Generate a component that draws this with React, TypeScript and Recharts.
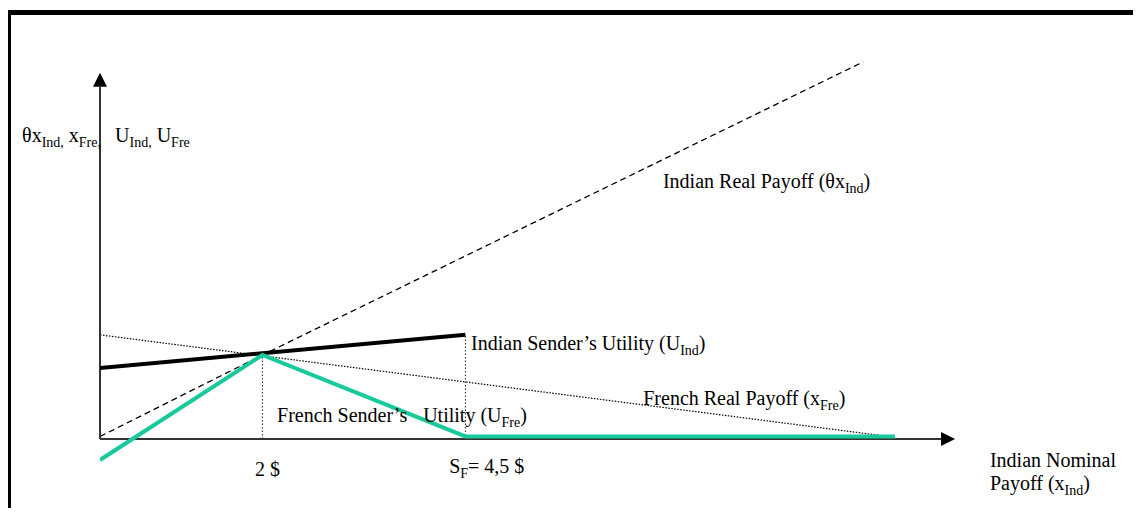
import React from 'react';
import { LineChart, Line, XAxis, YAxis, ReferenceLine, ReferenceDot } from 'recharts';

const FONT = '"Liberation Serif", "Times New Roman", serif';
const TEAL = '#17C99B';

// x = Indian nominal payoff ($), y = payoff / utility (arbitrary units)
const indianRealPayoff = [
  { x: 0, y: 0.03 },
  { x: 2, y: 1.0 },
  { x: 9.4, y: 4.49 },
];
const frenchRealPayoff = [
  { x: 0, y: 1.24 },
  { x: 9.79, y: 0.02 },
];
const indianUtility = [
  { x: 0, y: 0.845 },
  { x: 4.5, y: 1.24 },
];
const frenchUtility = [
  { x: 0, y: -0.25 },
  { x: 2, y: 1.0 },
  { x: 4.5, y: 0.03 },
  { x: 9.79, y: 0.03 },
];

// dotted guides dropped from the kinks to the x axis
const guideX = [2, 4.5];
const guideTop = [1.0, 1.24];

// axis lengths (data units)
const xAxisEnd = 10.53;
const yAxisEnd = 4.36;

type Part = { t: string; sub?: boolean };

const labels: { x: number; y: number; parts: Part[] }[] = [
  { x: -0.96, y: 3.536, parts: [{ t: 'θx' }, { t: 'Ind,', sub: true }, { t: ' x' }, { t: 'Fre,', sub: true }] },
  { x: 0.185, y: 3.536, parts: [{ t: 'U' }, { t: 'Ind,', sub: true }, { t: ' U' }, { t: 'Fre', sub: true }] },
  { x: 6.933, y: 2.988, parts: [{ t: 'Indian Real Payoff (θx' }, { t: 'Ind', sub: true }, { t: ')' }] },
  { x: 4.57, y: 1.06, parts: [{ t: 'Indian Sender’s Utility (U' }, { t: 'Ind', sub: true }, { t: ')' }] },
  { x: 2.18, y: 0.2, parts: [{ t: 'French Sender’s' }] },
  { x: 3.98, y: 0.2, parts: [{ t: 'Utility (U' }, { t: 'Fre', sub: true }, { t: ')' }] },
  { x: 6.69, y: 0.405, parts: [{ t: 'French Real Payoff (x' }, { t: 'Fre', sub: true }, { t: ')' }] },
  { x: 1.91, y: -0.44, parts: [{ t: '2 $' }] },
  { x: 4.3, y: -0.405, parts: [{ t: 'S' }, { t: 'F', sub: true }, { t: '= 4,5 $' }] },
  { x: 10.96, y: -0.333, parts: [{ t: 'Indian Nominal' }] },
  { x: 10.96, y: -0.607, parts: [{ t: 'Payoff (x' }, { t: 'Ind', sub: true }, { t: ')' }] },
];

const Caption = ({ cx, cy, parts }: { cx: number; cy: number; parts: Part[] }) => {
  let prevSub = false;
  return (
    <text x={cx} y={cy} fontFamily={FONT} fontSize={20} fill="#000" style={{ whiteSpace: 'pre' }}>
      {parts.map((p, i) => {
        const dy = p.sub && !prevSub ? 5 : !p.sub && prevSub ? -5 : 0;
        prevSub = !!p.sub;
        return (
          <tspan key={i} dy={dy} fontSize={p.sub ? 14 : 20}>
            {p.t}
          </tspan>
        );
      })}
    </text>
  );
};

const ArrowAxis = (props: any) => {
  const { x1, y1, x2, y2 } = props;
  const ang = Math.atan2(y2 - y1, x2 - x1);
  const len = 14;
  const half = 7;
  const bx = x2 - len * Math.cos(ang);
  const by = y2 - len * Math.sin(ang);
  const px = -Math.sin(ang) * half;
  const py = Math.cos(ang) * half;
  return (
    <g>
      <line x1={x1} y1={y1} x2={bx} y2={by} stroke="#333" strokeWidth={2} />
      <polygon points={`${x2},${y2} ${bx + px},${by + py} ${bx - px},${by - py}`} fill="#000" />
    </g>
  );
};

export default function App() {
  return (
    <div style={{ position: 'relative', width: 1141, height: 516, margin: -8, overflow: 'hidden', background: '#fff' }}>
      <div
        style={{
          position: 'absolute',
          left: 6,
          top: 10,
          width: 1300,
          height: 700,
          borderTop: '5px solid #000',
          borderLeft: '5px solid #000',
        }}
      />
      <div style={{ position: 'absolute', left: 0, top: 0 }}>
        <LineChart width={1141} height={516} margin={{ top: 19, right: 66.6, bottom: 9.8, left: 100 }}>
          <XAxis type="number" dataKey="x" domain={[0, 12]} allowDataOverflow hide />
          <YAxis type="number" dataKey="y" domain={[-0.8, 5]} allowDataOverflow hide />

          {guideX.map((gx, i) => (
            <ReferenceLine
              key={gx}
              segment={[{ x: gx, y: 0 }, { x: gx, y: guideTop[i] }]}
              stroke="#222"
              strokeWidth={1}
              strokeDasharray="1.5 2"
            />
          ))}

          <Line data={frenchRealPayoff} dataKey="y" type="linear" stroke="#000" strokeWidth={1.2} strokeDasharray="1.5 1.5" dot={false} isAnimationActive={false} />
          <Line data={indianRealPayoff} dataKey="y" type="linear" stroke="#000" strokeWidth={1.3} strokeDasharray="6 4" dot={false} isAnimationActive={false} />

          <ReferenceLine segment={[{ x: 0, y: 0 }, { x: xAxisEnd, y: 0 }]} shape={ArrowAxis} />
          <ReferenceLine segment={[{ x: 0, y: 0 }, { x: 0, y: yAxisEnd }]} shape={ArrowAxis} />

          <Line data={indianUtility} dataKey="y" type="linear" stroke="#000" strokeWidth={4} dot={false} isAnimationActive={false} />
          <Line data={frenchUtility} dataKey="y" type="linear" stroke={TEAL} strokeWidth={4} dot={false} isAnimationActive={false} />

          {labels.map((l, i) => (
            <ReferenceDot
              key={i}
              x={l.x}
              y={l.y}
              r={0}
              ifOverflow="visible"
              shape={(p: any) => <Caption cx={p.cx} cy={p.cy} parts={l.parts} />}
            />
          ))}
        </LineChart>
      </div>
    </div>
  );
}
